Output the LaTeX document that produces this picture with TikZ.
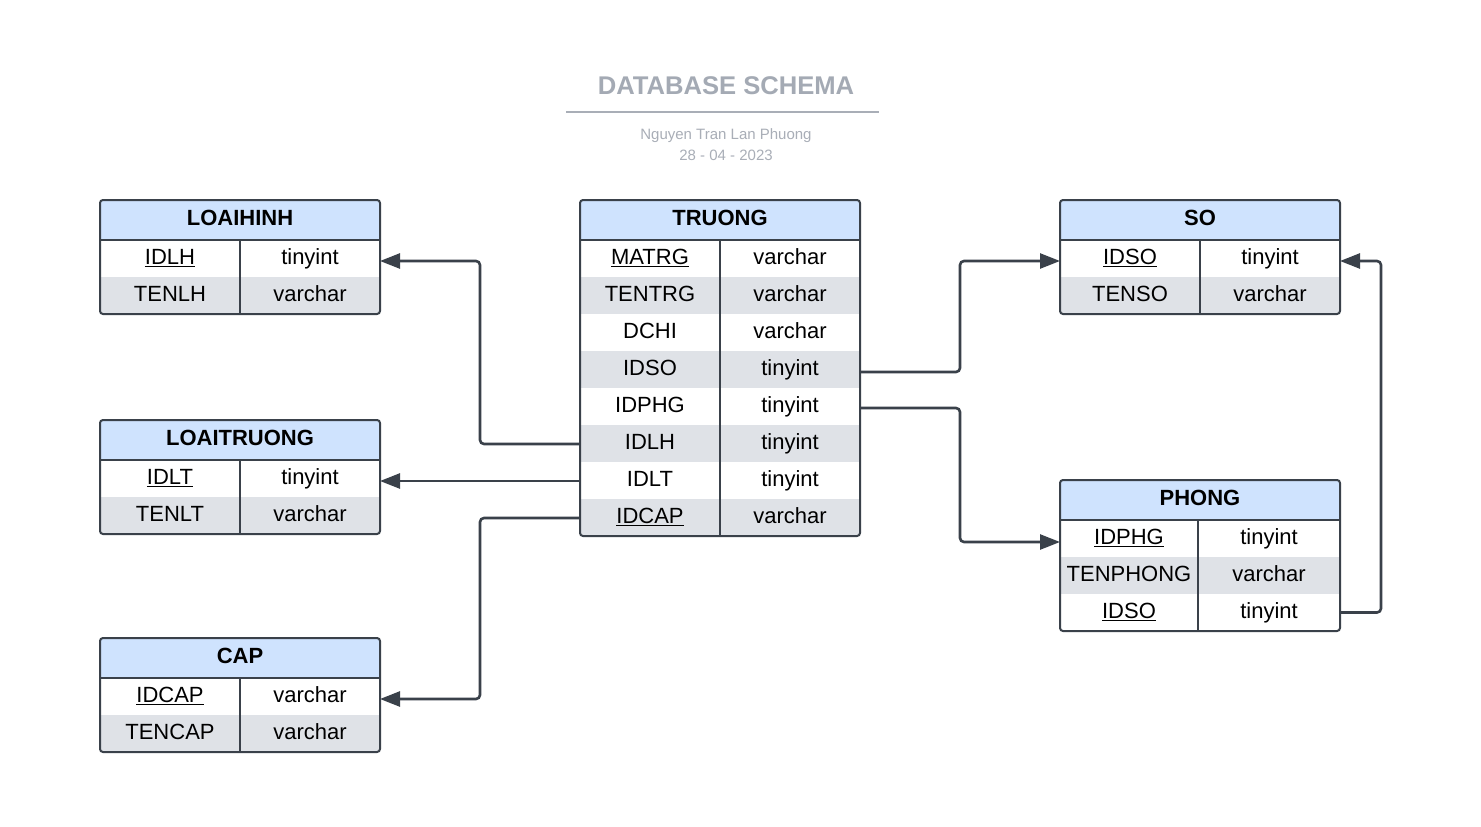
\documentclass[tikz,border=0pt]{standalone}
\usepackage{fontspec}
\setmainfont{Liberation Sans}
\usetikzlibrary{arrows.meta}
\definecolor{hdrblue}{HTML}{CFE3FE}
\definecolor{stripe}{HTML}{DFE2E7}
\definecolor{edge}{HTML}{3A414A}
\definecolor{titlegrey}{HTML}{A4AAB4}
\definecolor{subgrey}{HTML}{A9AEB7}
\tikzset{
  cellA/.style={inner sep=0pt, outer sep=0pt, minimum height=37pt, text height=15.75pt, text depth=4pt,
    font=\fontsize{22}{26}\selectfont, anchor=north west, draw=none},
  hdrcell/.style={inner sep=0pt, outer sep=0pt, minimum height=40pt, minimum width=280pt, text height=15.75pt, text depth=4pt,
    fill=hdrblue, font=\fontsize{22}{26}\selectfont\bfseries, anchor=north west},
  frame/.style={draw=edge, line width=2pt, rounded corners=3pt},
  inner/.style={draw=edge, line width=2pt},
  conn/.style={draw=edge, line width=2.6pt, rounded corners=4pt, -{Triangle[length=20pt,width=15pt]}},
  titletext/.style={font=\fontsize{25.6}{30}\selectfont\bfseries, text=titlegrey, anchor=base, inner sep=0pt},
  subtext/.style={font=\fontsize{15}{18}\selectfont, text=subgrey, anchor=base, inner sep=0pt},
}
% #1 name, #2 x, #3 y, #4 title, #5 divider offset, #6 number of rows, #7 rows
\newcommand\erdtable[7]{%
  \begin{scope}
    \clip[rounded corners=3pt] (#2,#3) rectangle ++(280,40+37*#6);
    \node[hdrcell] (#1) at (#2,#3) {#4};
    \foreach \k/\t [count=\i] in {#7} {
      \pgfmathsetmacro\yy{#3+40+(\i-1)*37}
      \ifodd\i \def\rowfill{white}\else \def\rowfill{stripe}\fi
      \node[cellA, fill=\rowfill, minimum width=#5] (#1-k\i) at (#2,\yy) {\k};
      \node[cellA, fill=\rowfill, minimum width=280-#5] (#1-t\i) at (#2+#5,\yy) {\t};
    }
  \end{scope}
  \draw[frame] (#2,#3) rectangle ++(280,40+37*#6);
  \draw[inner] (#2,#3+40) -- ++(280,0);
  \draw[inner] (#2+#5,#3+40) -- ++(0,37*#6);
}
\begin{document}
\begin{tikzpicture}[x=1pt,y=-1pt]
  \useasboundingbox (0,0) rectangle (1481,827);
  \fill[white] (0,0) rectangle (1481,827);

  \node[titletext] (title) at (726,94) {DATABASE SCHEMA};
  \draw[subgrey, line width=2pt] (566,111.5) -- (879,111.5);
  \node[subtext] (author) at (726,139) {Nguyen Tran Lan Phuong};
  \node[subtext] (date) at (726,160) {28 - 04 - 2023};

  \erdtable{loaihinh}{100}{200}{LOAIHINH}{140}{2}{\underline{IDLH}/tinyint, TENLH/varchar}
  \erdtable{loaitruong}{100}{420}{LOAITRUONG}{140}{2}{\underline{IDLT}/tinyint, TENLT/varchar}
  \erdtable{cap}{100}{638}{CAP}{140}{2}{\underline{IDCAP}/varchar, TENCAP/varchar}
  \erdtable{truong}{580}{200}{TRUONG}{140}{8}{\underline{MATRG}/varchar, TENTRG/varchar, DCHI/varchar, IDSO/tinyint, IDPHG/tinyint, IDLH/tinyint, IDLT/tinyint, \underline{IDCAP}/varchar}
  \erdtable{so}{1060}{200}{SO}{140}{2}{\underline{IDSO}/tinyint, TENSO/varchar}
  \erdtable{phong}{1060}{480}{PHONG}{138}{3}{\underline{IDPHG}/tinyint, TENPHONG/varchar, \underline{IDSO}/tinyint}

  \draw[conn] ([yshift=-0.5pt]truong-k6.west) -- ++(-100,0) |- ([yshift=-2.5pt]loaihinh-t1.east);
  \draw[conn] ([yshift=-0.5pt]truong-k7.west) -- ([yshift=-0.5pt]truong-k7.west -| loaitruong-t1.east);
  \draw[conn] ([yshift=-0.5pt]truong-k8.west) -- ++(-100,0) |- ([yshift=-2.5pt]cap-t1.east);
  \draw[conn] ([yshift=-2.5pt]truong-t4.east) -- ++(100,0) |- ([yshift=-2.5pt]so-k1.west);
  \draw[conn] ([yshift=-1.5pt]truong-t5.east) -- ++(100,0) |- ([yshift=-3.5pt]phong-k1.west);
  \draw[conn] (phong-t3.east) -- ++(41,0) |- ([yshift=-2.5pt]so-t1.east);
\end{tikzpicture}
\end{document}
